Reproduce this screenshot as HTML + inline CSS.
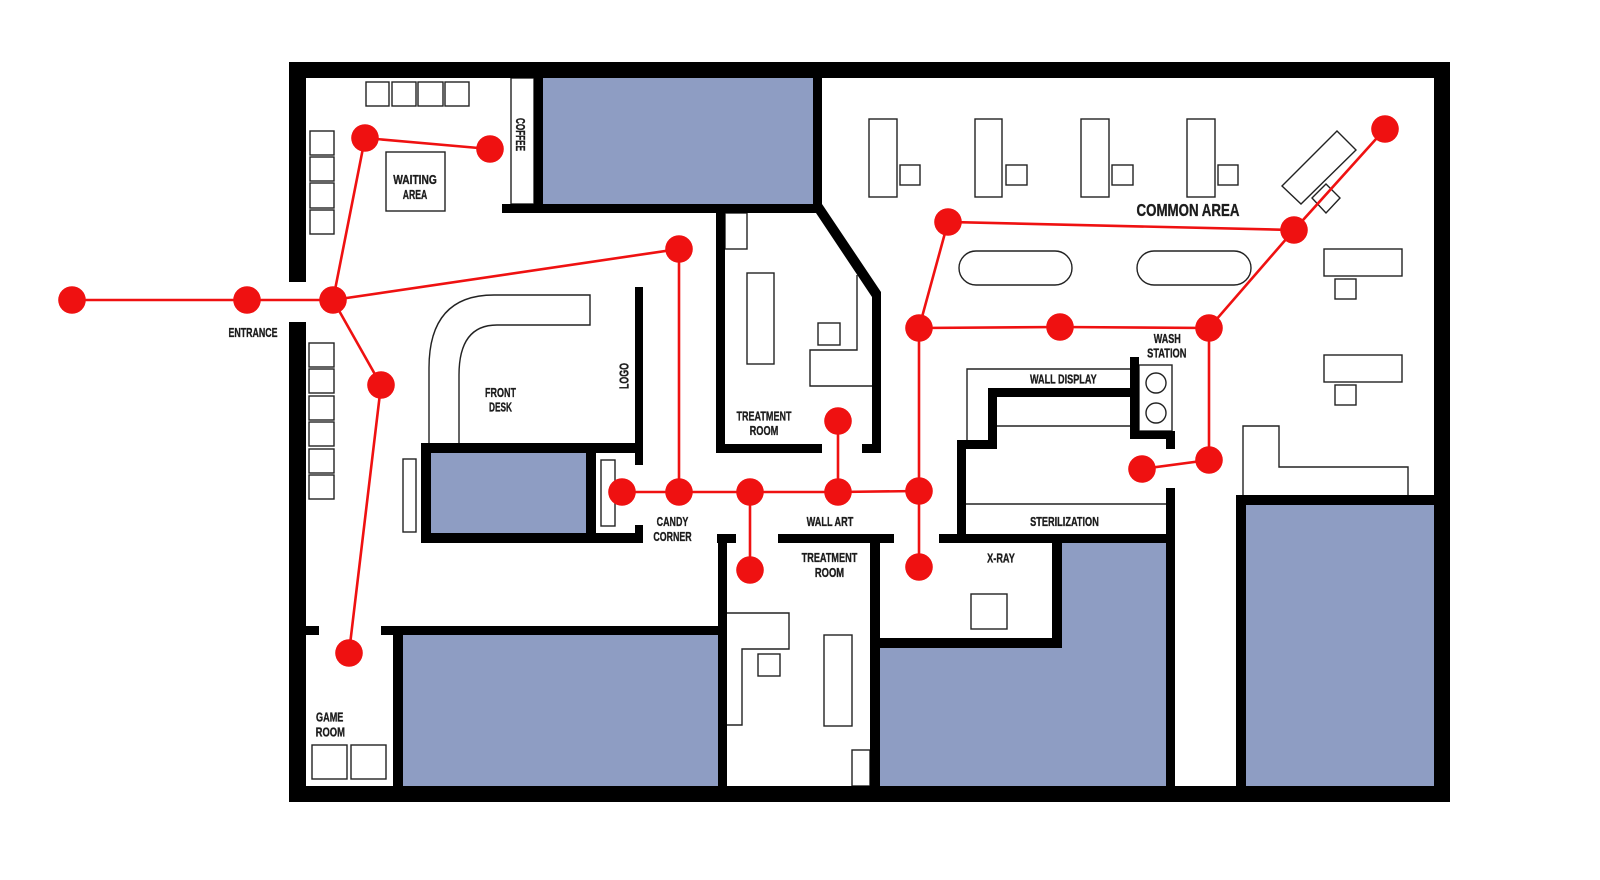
<!DOCTYPE html>
<html><head><meta charset="utf-8"><style>
html,body{margin:0;padding:0;background:#fff;}
svg{display:block;}
text{font-family:"Liberation Sans Narrow","Liberation Sans",sans-serif;font-weight:bold;fill:#1c1c1c;stroke:#1c1c1c;stroke-width:0.35px;font-size:13px;}
</style></head><body>
<svg width="1600" height="880" viewBox="0 0 1600 880" xmlns="http://www.w3.org/2000/svg">
<rect width="1600" height="880" fill="#fff"/>
<!-- blue areas -->
<g fill="#8e9dc3">
<rect x="543" y="78" width="270" height="126"/>
<rect x="431" y="453" width="155" height="80"/>
<rect x="403" y="635" width="315" height="151"/>
<rect x="880" y="648" width="286" height="138"/>
<rect x="1062" y="543" width="104" height="105"/>
<rect x="1246" y="505" width="188" height="281"/>
</g>
<!-- thin furniture -->
<g fill="none" stroke="#222" stroke-width="1.4">
<rect x="366" y="82" width="23" height="24"/><rect x="392" y="82" width="24" height="24"/><rect x="418" y="82" width="25" height="24"/><rect x="445" y="82" width="24" height="24"/>
<rect x="310" y="131" width="24" height="24"/><rect x="310" y="157" width="24" height="24"/><rect x="310" y="183" width="24" height="25"/><rect x="310" y="210" width="24" height="24"/>
<rect x="386" y="152" width="59" height="59"/>
<rect x="309" y="343" width="25" height="24"/><rect x="309" y="369" width="25" height="24"/><rect x="309" y="396" width="25" height="24"/><rect x="309" y="422" width="25" height="24"/><rect x="309" y="449" width="25" height="24"/><rect x="309" y="475" width="25" height="24"/>
<rect x="511" y="78" width="23" height="126"/>
<rect x="725" y="213" width="22" height="36"/>
<rect x="403" y="459" width="13" height="73"/>
<rect x="601" y="460" width="14" height="66"/>
<path d="M429,443 V368 Q429,295 494,295 H590 V325 H497 Q459,325 459,375 V443"/>
<rect x="747" y="273" width="27" height="91"/>
<rect x="818" y="323" width="22" height="22"/>
<path d="M857,275 V350 H810 V386 H872"/>
<path d="M727,613 H789 V649 H742 V725 H727"/>
<rect x="758" y="654" width="22" height="22"/>
<rect x="824" y="635" width="28" height="91"/>
<rect x="852" y="750" width="18" height="36"/>
<rect x="971" y="594" width="36" height="35"/>
<rect x="312" y="745" width="35" height="34"/><rect x="351" y="745" width="35" height="34"/>
<rect x="869" y="119" width="28" height="78"/><rect x="900" y="165" width="20" height="20"/>
<rect x="975" y="119" width="27" height="78"/><rect x="1006" y="165" width="21" height="20"/>
<rect x="1081" y="119" width="28" height="78"/><rect x="1112" y="165" width="21" height="20"/>
<rect x="1187" y="119" width="28" height="78"/><rect x="1218" y="165" width="20" height="20"/>
<rect x="959" y="251" width="113" height="34" rx="17"/>
<rect x="1137" y="251" width="114" height="34" rx="17"/>
<rect x="1324" y="249" width="78" height="27"/><rect x="1335" y="279" width="21" height="20"/>
<rect x="1324" y="355" width="78" height="27"/><rect x="1335" y="385" width="21" height="20"/>
<path d="M1243,495 V426 H1279 V467 H1408 V495"/>
<polygon points="1282,186 1337,131 1356,150 1301,204"/>
<polygon points="1312,198 1326,184 1340,198 1326,213"/>
<path d="M967,440 V369 H1130"/>
<path d="M997,426 H1130"/>
<path d="M966,504 H1166"/>
<rect x="1139" y="365" width="33" height="66"/>
<circle cx="1156" cy="383" r="10"/><circle cx="1156" cy="413" r="10"/>
</g>
<!-- walls -->
<g fill="#000">
<rect x="289" y="62" width="1161" height="16"/>
<rect x="289" y="786" width="1161" height="16"/>
<rect x="289" y="62" width="17" height="220"/>
<rect x="289" y="322" width="17" height="480"/>
<rect x="1434" y="62" width="16" height="740"/>
<rect x="534" y="78" width="9" height="135"/>
<rect x="502" y="204" width="320" height="9"/>
<rect x="813" y="78" width="9" height="135"/>
<polygon points="813,204 822,204 881,292 881,453 872,453 872,297 816,213"/>
<rect x="862" y="444" width="19" height="9"/>
<rect x="716" y="213" width="9" height="240"/>
<rect x="716" y="444" width="106" height="9"/>
<rect x="421" y="443" width="222" height="10"/>
<rect x="421" y="443" width="10" height="100"/>
<rect x="421" y="533" width="222" height="10"/>
<rect x="586" y="453" width="10" height="80"/>
<rect x="635" y="287" width="8" height="178"/>
<rect x="635" y="525" width="8" height="18"/>
<rect x="306" y="626" width="13" height="9"/>
<rect x="381" y="626" width="346" height="9"/>
<rect x="393" y="635" width="10" height="151"/>
<rect x="718" y="534" width="9" height="252"/>
<rect x="717" y="534" width="19" height="9"/>
<rect x="778" y="534" width="116" height="9"/>
<rect x="870" y="543" width="10" height="243"/>
<rect x="939" y="534" width="236" height="9"/>
<rect x="880" y="638" width="182" height="10"/>
<rect x="1052" y="543" width="10" height="105"/>
<rect x="1166" y="488" width="9" height="298"/>
<rect x="988" y="388" width="142" height="9"/>
<rect x="988" y="388" width="9" height="61"/>
<rect x="957" y="440" width="40" height="9"/>
<rect x="957" y="440" width="9" height="94"/>
<rect x="1130" y="357" width="9" height="82"/>
<rect x="1130" y="431" width="45" height="8"/>
<rect x="1166" y="431" width="9" height="18"/>
<rect x="1236" y="495" width="10" height="291"/>
<rect x="1236" y="495" width="198" height="10"/>
</g>
<!-- red network -->
<g stroke="#ef1111" stroke-width="2.6" fill="none" stroke-linecap="round">
<path d="M72,300 H333"/>
<path d="M333,300 L365,138 L490,149"/>
<path d="M333,300 L679,249 L679,492"/>
<path d="M333,300 L381,385 L349,653"/>
<path d="M622,492 L679,492 L750,492 L838,492 L919,491"/>
<path d="M750,492 L750,570"/>
<path d="M838,492 L838,421"/>
<path d="M919,491 L919,567"/>
<path d="M919,491 L919,328 L948,222 L1294,230 L1385,129"/>
<path d="M919,328 L1060,327 L1209,328 L1294,230"/>
<path d="M1209,328 L1209,460 L1142,469"/>
</g>
<g fill="#ef1111">
<circle cx="72" cy="300" r="13.8"/><circle cx="247" cy="300" r="13.8"/><circle cx="333" cy="300" r="13.8"/>
<circle cx="365" cy="138" r="13.8"/><circle cx="490" cy="149" r="13.8"/>
<circle cx="679" cy="249" r="13.8"/>
<circle cx="381" cy="385" r="13.8"/><circle cx="349" cy="653" r="13.8"/>
<circle cx="622" cy="492" r="13.8"/><circle cx="679" cy="492" r="13.8"/><circle cx="750" cy="492" r="13.8"/><circle cx="838" cy="492" r="13.8"/><circle cx="919" cy="491" r="13.8"/>
<circle cx="838" cy="421" r="13.8"/><circle cx="750" cy="570" r="13.8"/><circle cx="919" cy="567" r="13.8"/>
<circle cx="919" cy="328" r="13.8"/><circle cx="948" cy="222" r="13.8"/><circle cx="1060" cy="327" r="13.8"/><circle cx="1209" cy="328" r="13.8"/>
<circle cx="1209" cy="460" r="13.8"/><circle cx="1142" cy="469" r="13.8"/><circle cx="1294" cy="230" r="13.8"/><circle cx="1385" cy="129" r="13.8"/>
</g>
<!-- labels -->
<g text-anchor="middle">
<text x="253" y="337" textLength="49" lengthAdjust="spacingAndGlyphs">ENTRANCE</text>
<text x="415" y="184" textLength="43.6" lengthAdjust="spacingAndGlyphs">WAITING</text>
<text x="415" y="199" textLength="24.5" lengthAdjust="spacingAndGlyphs">AREA</text>
<text transform="translate(520.5,134.5) rotate(90)" x="0" y="4.7" textLength="33" lengthAdjust="spacingAndGlyphs">COFFEE</text>
<text transform="translate(624,376) rotate(-90)" x="0" y="4.7" textLength="26" lengthAdjust="spacingAndGlyphs">LOGO</text>
<text x="500.5" y="397" textLength="31" lengthAdjust="spacingAndGlyphs">FRONT</text>
<text x="500.5" y="411.7" textLength="23" lengthAdjust="spacingAndGlyphs">DESK</text>
<text x="764" y="420.7" textLength="55" lengthAdjust="spacingAndGlyphs">TREATMENT</text>
<text x="764" y="435" textLength="28.7" lengthAdjust="spacingAndGlyphs">ROOM</text>
<text x="672.5" y="526" textLength="31.7" lengthAdjust="spacingAndGlyphs">CANDY</text>
<text x="672.5" y="541" textLength="38.3" lengthAdjust="spacingAndGlyphs">CORNER</text>
<text x="830" y="526" textLength="46.7" lengthAdjust="spacingAndGlyphs">WALL ART</text>
<text x="829.5" y="562" textLength="55.7" lengthAdjust="spacingAndGlyphs">TREATMENT</text>
<text x="829.5" y="577" textLength="29.3" lengthAdjust="spacingAndGlyphs">ROOM</text>
<text x="1001" y="562.5" textLength="27.7" lengthAdjust="spacingAndGlyphs">X-RAY</text>
<text x="1063.3" y="383.3" textLength="66.7" lengthAdjust="spacingAndGlyphs">WALL DISPLAY</text>
<text x="1167.2" y="343" textLength="27" lengthAdjust="spacingAndGlyphs">WASH</text>
<text x="1166.8" y="357.7" textLength="39.3" lengthAdjust="spacingAndGlyphs">STATION</text>
<text x="1064.5" y="526" textLength="68.7" lengthAdjust="spacingAndGlyphs">STERILIZATION</text>
<text x="1188" y="215.8" style="font-size:17.5px" textLength="103" lengthAdjust="spacingAndGlyphs">COMMON AREA</text>
<text x="329.7" y="721.7" textLength="27.3" lengthAdjust="spacingAndGlyphs">GAME</text>
<text x="330.3" y="736.7" textLength="29.3" lengthAdjust="spacingAndGlyphs">ROOM</text>
</g>
</svg>
</body></html>
